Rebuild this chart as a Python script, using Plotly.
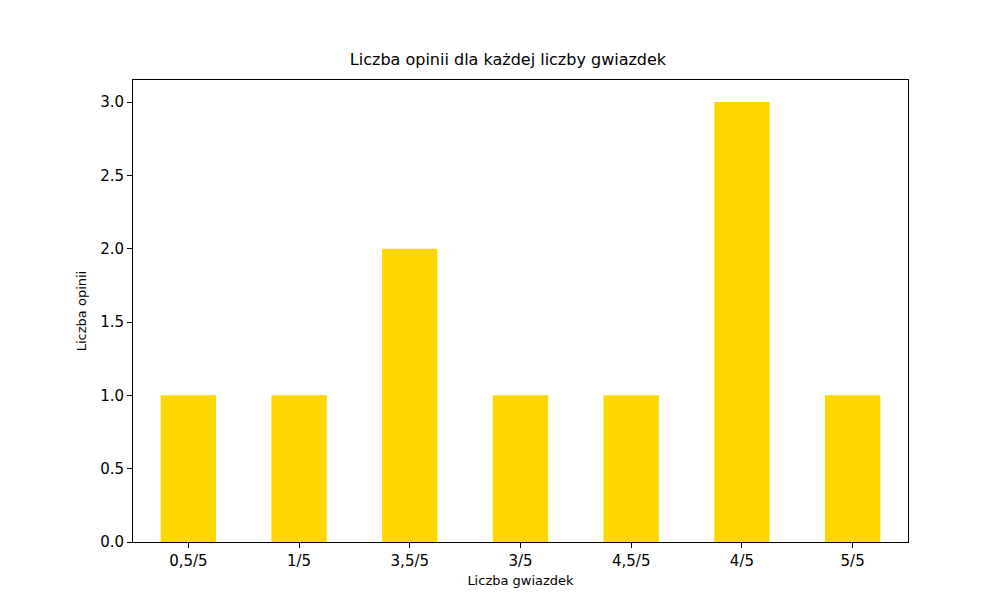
import plotly.graph_objects as go

categories = ['0,5/5', '1/5', '3,5/5', '3/5', '4,5/5', '4/5', '5/5']
counts = [1, 1, 2, 1, 1, 3, 1]

fig = go.Figure()
fig.add_trace(go.Bar(
    x=list(range(len(categories))),
    y=counts,
    width=0.5,
    marker=dict(color='#FFD700', line=dict(width=0)),
))

axis_common = dict(
    showline=True, linecolor='black', linewidth=1, mirror=True,
    showgrid=False, zeroline=False,
    ticks='outside', ticklen=5, tickcolor='black',
    tickfont=dict(size=15, color='black'),
)

fig.update_layout(
    title=dict(text='Liczba opinii dla każdej liczby gwiazdek', x=0.5, xanchor='center',
               y=0.905, yanchor='bottom', font=dict(size=16, color='black')),
    xaxis=dict(**axis_common, range=[-0.5, 6.5],
               tickvals=list(range(len(categories))), ticktext=categories,
               title=dict(text='Liczba gwiazdek', font=dict(size=13, color='black'), standoff=6)),
    yaxis=dict(**axis_common, range=[0, 3.15], tickvals=[0, 0.5, 1, 1.5, 2, 2.5, 3],
               ticktext=['0.0', '0.5', '1.0', '1.5', '2.0', '2.5', '3.0'],
               title=dict(text='Liczba opinii', font=dict(size=13, color='black'), standoff=10)),
    plot_bgcolor='white',
    paper_bgcolor='white',
    font=dict(family='DejaVu Sans'),
    width=1000, height=600,
    margin=dict(l=125, r=100, t=72, b=66),
    showlegend=False,
)

fig.write_html('out.html')
